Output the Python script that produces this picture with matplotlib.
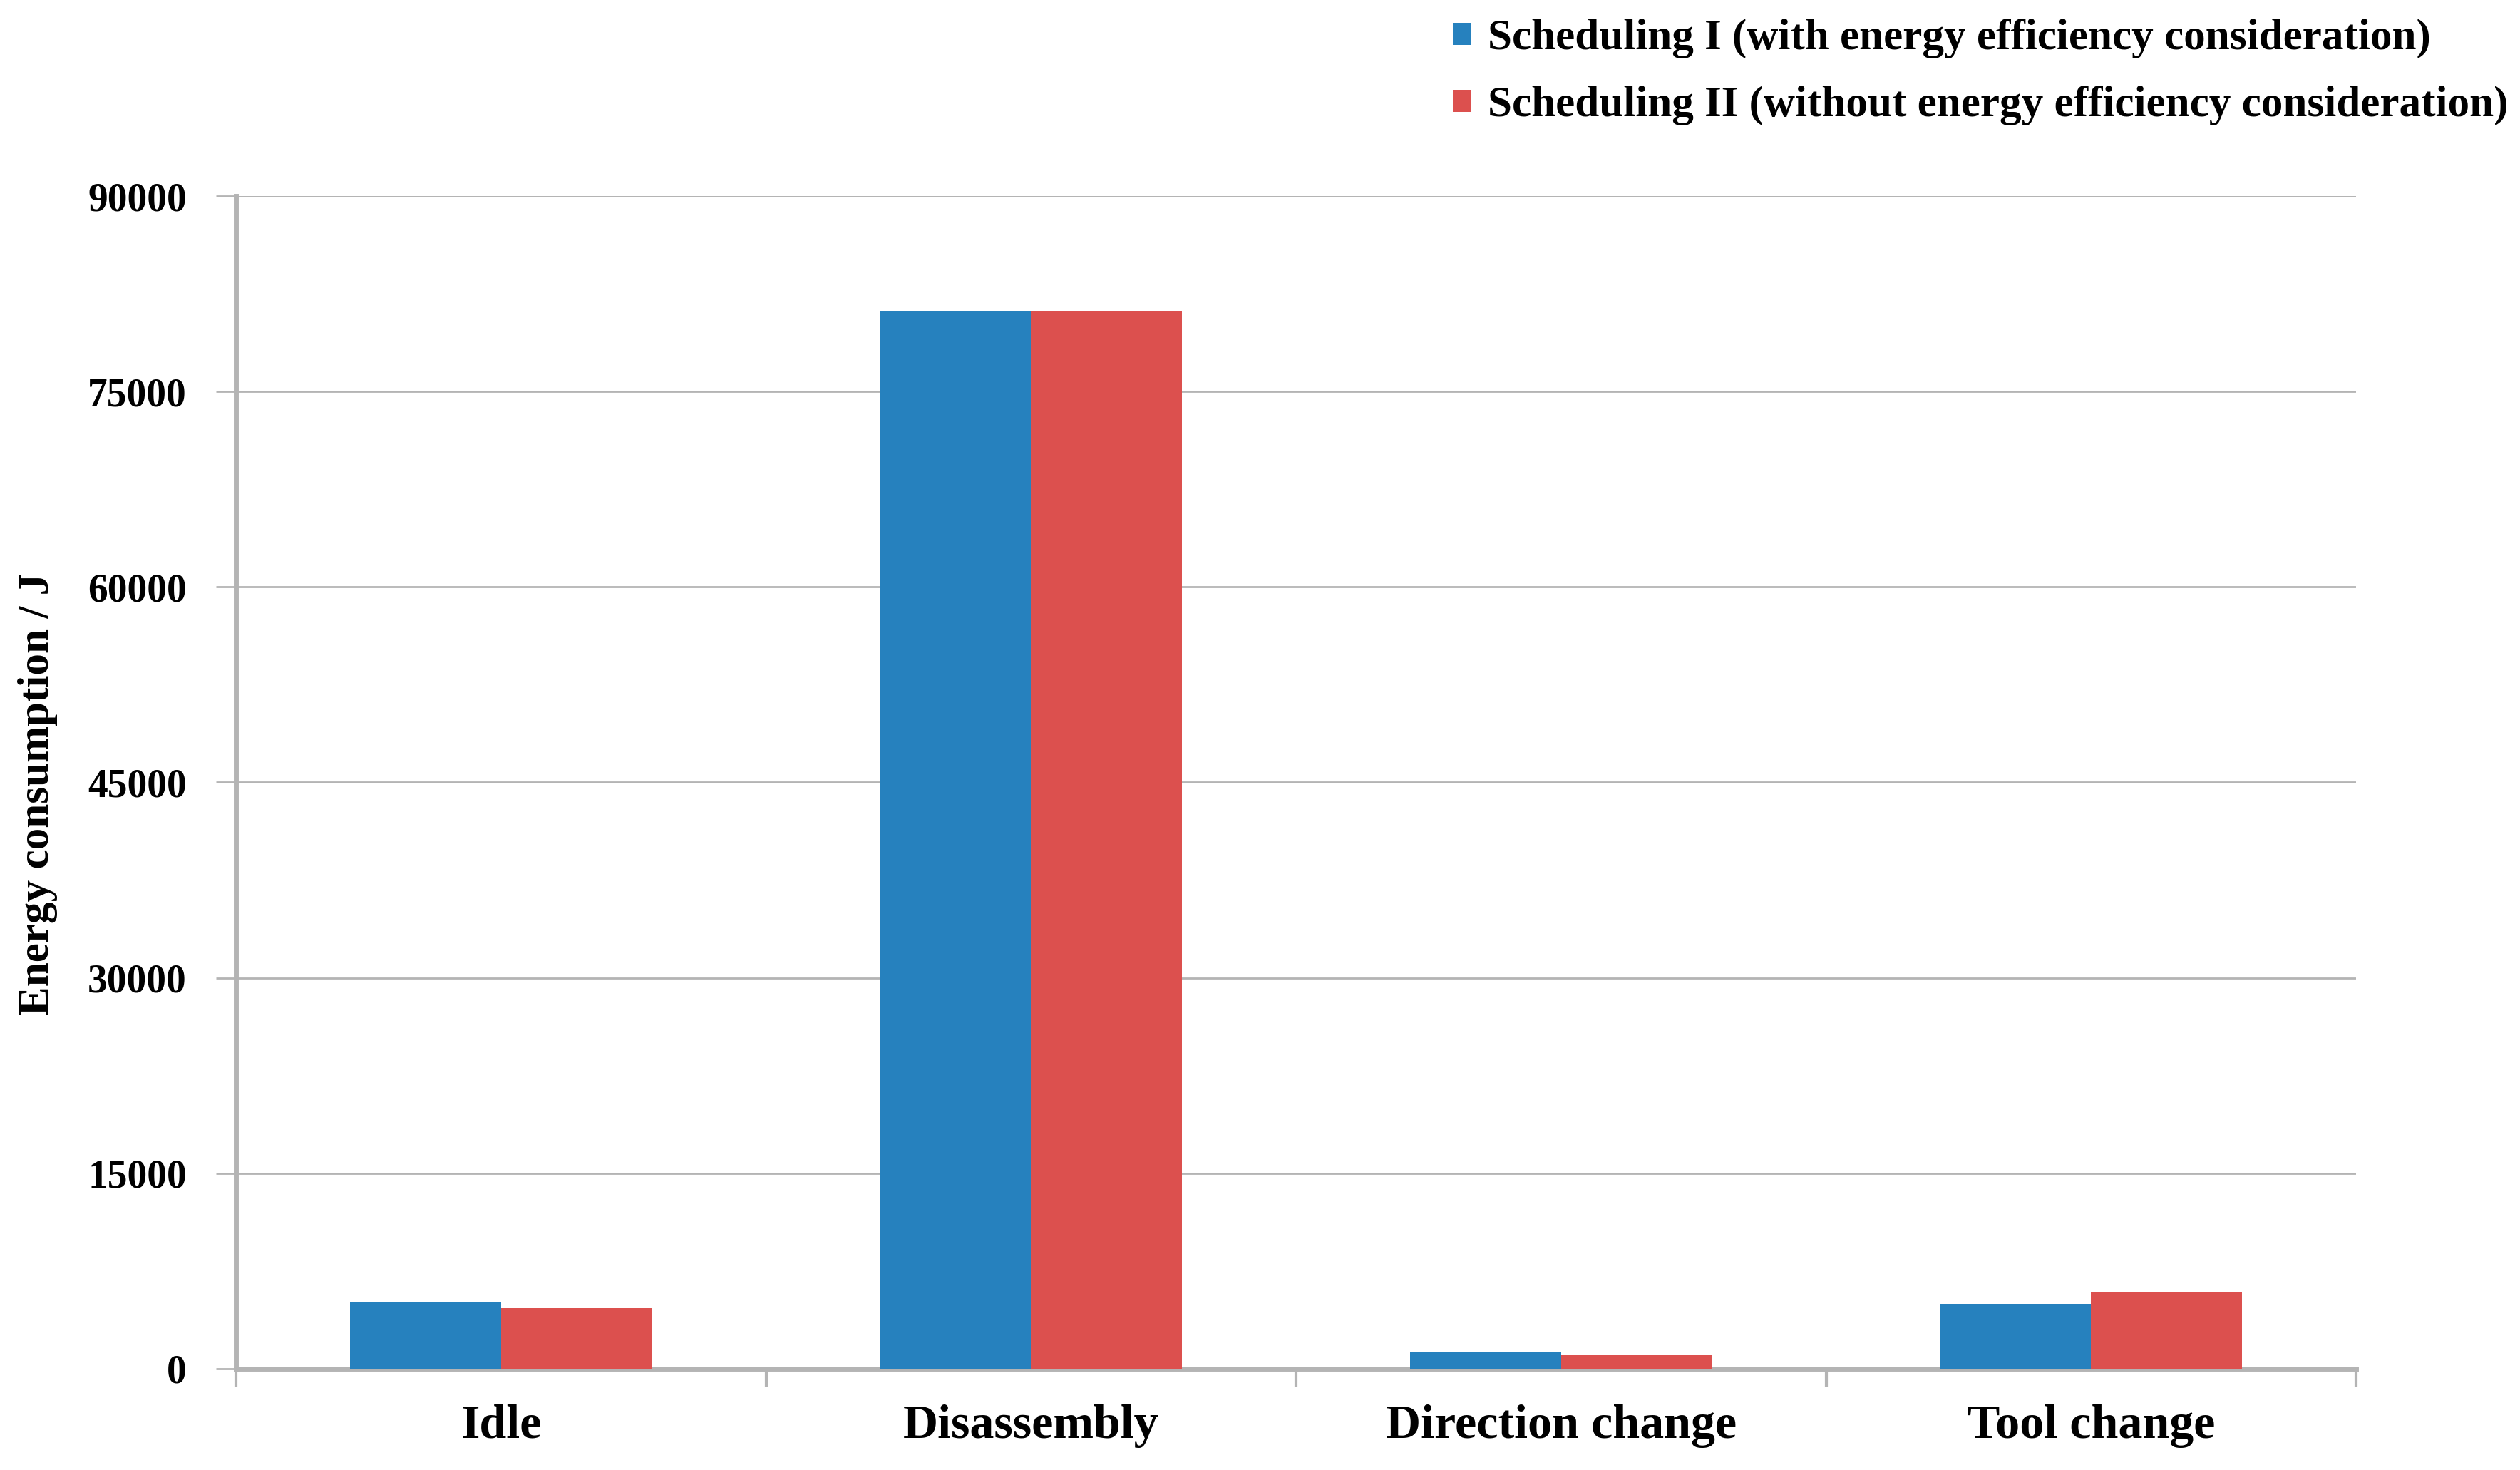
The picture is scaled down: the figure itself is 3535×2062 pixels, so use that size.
import numpy as np
import matplotlib.pyplot as plt

categories = ["Idle", "Disassembly", "Direction change", "Tool change"]
sched_1 = [5100, 81200, 1300, 5000]
sched_2 = [4650, 81200, 1050, 5900]
series_names = ["Scheduling I (with energy efficiency consideration)",
                "Scheduling II (without energy efficiency consideration)"]
y_ticks = [0, 15000, 30000, 45000, 60000, 75000, 90000]

BLUE = "#2681be"
RED = "#dc504e"
GREY = "#b4b4b4"

plt.rcParams["font.family"] = ["Liberation Serif", "DejaVu Serif"]
plt.rcParams["font.weight"] = "bold"

fig = plt.figure(figsize=(35.35, 20.62), dpi=100)
ax = fig.add_axes([0.0937, 0.0689, 0.8413, 0.7977])

x = np.arange(len(categories))
w = 0.285
ax.bar(x - w / 2, sched_1, width=w, color=BLUE, label=series_names[0], zorder=3)
ax.bar(x + w / 2, sched_2, width=w, color=RED, label=series_names[1], zorder=3)

ax.set_xlim(-0.5, len(categories) - 0.5)
ax.set_ylim(0, 90000)
ax.set_yticks(y_ticks)
ax.set_yticklabels([str(v) for v in y_ticks], fontsize=40, fontweight="bold")
ax.yaxis.grid(True, color=GREY, linewidth=2, zorder=0)

# category labels on minor ticks, boundary tick marks on major
ax.set_xticks(np.arange(len(categories) + 1) - 0.5)
ax.set_xticklabels([])
ax.set_xticks(x, minor=True)
ax.set_xticklabels(categories, minor=True, fontsize=49, fontweight="bold")
ax.tick_params(axis="x", which="major", length=18, width=3, color=GREY)
ax.tick_params(axis="x", which="minor", length=0, pad=36)
ax.tick_params(axis="y", length=20, width=2, color=GREY, pad=30)

for s in ["top", "right"]:
    ax.spines[s].set_visible(False)
ax.spines["left"].set_color(GREY)
ax.spines["left"].set_linewidth(5)
ax.spines["bottom"].set_color(GREY)
ax.spines["bottom"].set_linewidth(5)

ax.set_ylabel("Energy consumption / J", fontsize=44, fontweight="bold")
ax.yaxis.set_label_coords(-0.084, 0.49, transform=ax.transAxes)

ax.legend(loc="upper left", bbox_to_anchor=(0.561, 1.014), bbox_transform=fig.transFigure,
          frameon=False, handlelength=0.4, handleheight=0.4,
          handletextpad=0.4, labelspacing=0.62, prop={"weight": "bold", "size": 44})

fig.savefig("out.png", dpi=100, facecolor="white")
